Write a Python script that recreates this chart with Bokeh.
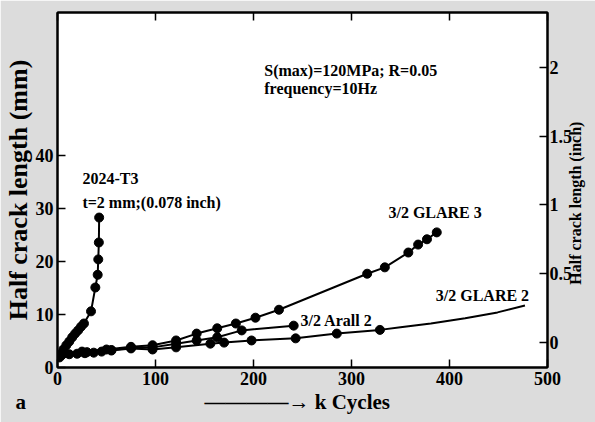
import math
from bokeh.plotting import figure
from bokeh.models import (Range1d, LinearAxis, FixedTicker, Label, CustomJSTickFormatter)
from bokeh.embed import file_html
from bokeh.resources import INLINE

# ---- data (k cycles, half crack length in mm) ----
t3_k = [2, 4, 6, 9, 12, 15, 18, 21, 24, 27, 34.2, 38.6, 41.0, 41.6, 42.2, 42.5]
t3_mm = [1.9, 2.6, 3.4, 4.2, 4.9, 5.7, 6.4, 7.0, 7.7, 8.3, 10.6, 15.1, 17.5, 20.4, 23.6, 28.3]

glare3_k = [5, 25, 50, 75, 97, 121, 142, 163, 182, 202, 226, 316, 334, 358, 368, 377, 387]
glare3_mm = [2.6, 3.0, 3.4, 3.9, 4.2, 5.1, 6.4, 7.4, 8.3, 9.4, 10.9, 17.7, 18.9, 21.7, 23.2, 24.2, 25.5]

arall2_k = [5, 30, 55, 75, 97, 121, 142, 163, 188, 241]
arall2_mm = [2.5, 2.9, 3.3, 3.7, 3.8, 4.5, 5.1, 5.7, 7.0, 7.9]

glare2_k = [4, 12, 20, 28, 37, 45, 55, 75, 97, 121, 156, 170, 198, 243, 285, 329]
glare2_mm = [2.3, 2.5, 2.6, 2.7, 2.8, 3.0, 3.2, 3.6, 3.4, 3.8, 4.5, 4.7, 5.1, 5.5, 6.4, 7.1]
glare2_tail_k = [350, 381, 416, 449, 477]
glare2_tail_mm = [7.6, 8.3, 9.3, 10.4, 11.7]

x_ticks = [0, 100, 200, 300, 400, 500]
mm_ticks = [0, 10, 20, 30, 40]
inch_ticks = [0, 0.5, 1, 1.5, 2]
right_title = "Half crack length (inch)"

FONT = "Liberation Serif"
NB = "\u00a0"

p = figure(width=595, height=422, x_range=Range1d(0, 500), y_range=Range1d(0, 67),
           output_backend="svg", toolbar_location=None,
           min_border_left=57, min_border_right=45, min_border_top=12, min_border_bottom=55)
p.extra_y_ranges = {"inch": Range1d(-0.182, 2.4)}
p.background_fill_color = "white"
p.border_fill_color = "#dcdcdc"
p.outline_line_color = "black"
p.outline_line_width = 2
p.xgrid.visible = False
p.ygrid.visible = False

def style(ax, size="18px"):
    ax.axis_line_color = "black"
    ax.axis_line_width = 2
    ax.major_tick_in = 8
    ax.major_tick_out = 0
    ax.major_tick_line_width = 1.5
    ax.minor_tick_line_color = None
    ax.major_label_text_font = FONT
    ax.major_label_text_font_style = "bold"
    ax.major_label_text_font_size = size
    ax.major_label_text_color = "black"
    ax.axis_label_text_font = FONT
    ax.axis_label_text_font_style = "bold"
    ax.axis_label_text_color = "black"

p.xaxis.ticker = FixedTicker(ticks=x_ticks)
style(p.xaxis[0])
p.xaxis.major_label_standoff = 4
p.xaxis.axis_label = ("a" + NB * 34 + "\u2014\u2014\u2014\u2014\u2192 k Cycles" + NB * 38)
p.xaxis.axis_label_text_font_size = "21px"
p.xaxis.axis_label_standoff = 2

p.yaxis.ticker = FixedTicker(ticks=mm_ticks)
style(p.yaxis[0])
p.yaxis.major_label_standoff = 4
p.yaxis.axis_label = "Half crack length (mm)"
p.yaxis.axis_label_text_font_size = "26px"
p.yaxis.axis_label_standoff = 0

fmt = CustomJSTickFormatter(code="return tick.toString();")
ax_r = LinearAxis(y_range_name="inch", ticker=FixedTicker(ticks=inch_ticks), formatter=fmt)
style(ax_r)
ax_r.major_label_standoff = 2
p.add_layout(ax_r, "right")

# right-hand title drawn as the single tick label of a bare second axis
ax_r2 = LinearAxis(y_range_name="inch", ticker=FixedTicker(ticks=[0.42]),
                   formatter=CustomJSTickFormatter(code="return %r;" % right_title))
style(ax_r2, "16px")
ax_r2.axis_line_color = None
ax_r2.major_tick_in = 0
ax_r2.major_tick_out = 0
ax_r2.major_tick_line_color = None
ax_r2.major_label_standoff = 0
ax_r2.major_label_orientation = math.pi / 2
p.add_layout(ax_r2, "right")

ax_t = LinearAxis(ticker=FixedTicker(ticks=x_ticks),
                  formatter=CustomJSTickFormatter(code="return '';"))
style(ax_t, "0px")
ax_t.major_label_standoff = 0
p.add_layout(ax_t, "above")

# ---- series ----
for ks, ms in [(t3_k, t3_mm), (glare3_k, glare3_mm), (arall2_k, arall2_mm)]:
    p.line(ks, ms, line_color="black", line_width=2)
    p.scatter(ks, ms, size=9, color="black")
p.line(glare2_k + glare2_tail_k, glare2_mm + glare2_tail_mm, line_color="black", line_width=2)
p.scatter(glare2_k, glare2_mm, size=9, color="black")

def lab(x, y, text, size="16px"):
    p.add_layout(Label(x=x, y=y, text=text, text_font=FONT, text_font_style="bold",
                       text_font_size=size, text_align="left", text_baseline="middle",
                       text_color="black"))

lab(211, 56, "S(max)=120MPa; R=0.05")
lab(211, 52.6, "frequency=10Hz")
lab(25.4, 35.7, "2024-T3")
lab(25.4, 31.1, "t=2 mm;(0.078 inch)")
lab(337.7, 29.2, "3/2 GLARE 3")
lab(386, 13.6, "3/2 GLARE 2")
lab(248, 8.9, "3/2 Arall 2")

open("out.html", "w").write(file_html(p, INLINE))
